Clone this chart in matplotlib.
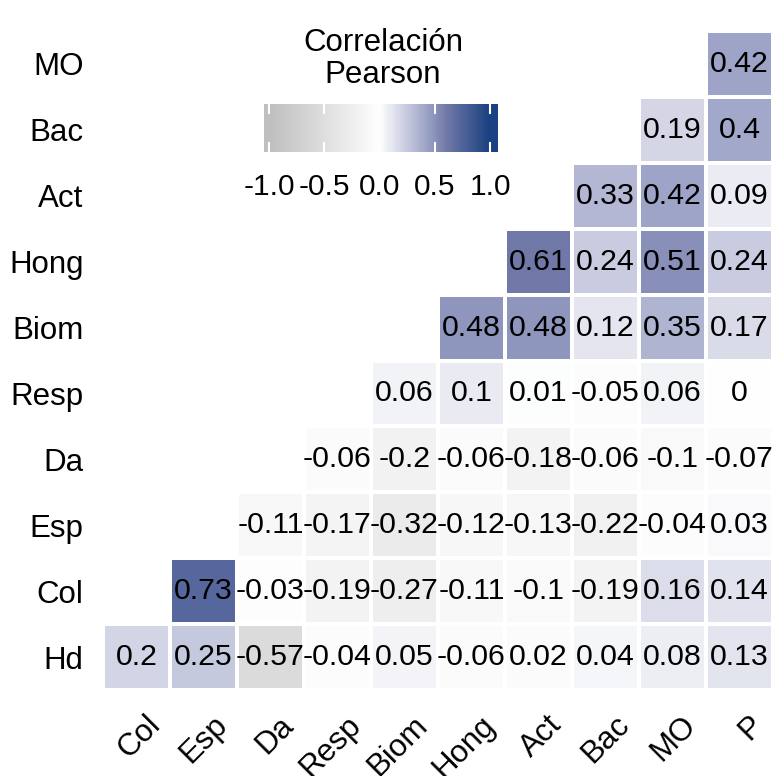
import numpy as np
import matplotlib
matplotlib.use("Agg")
import matplotlib.pyplot as plt
from matplotlib.colors import LinearSegmentedColormap
from matplotlib.transforms import ScaledTranslation

plt.rcParams['font.family'] = ['Liberation Sans', 'DejaVu Sans']

# === Data ===
x_labels = ["Col", "Esp", "Da", "Resp", "Biom", "Hong", "Act", "Bac", "MO", "P"]
y_labels = ["Hd", "Col", "Esp", "Da", "Resp", "Biom", "Hong", "Act", "Bac", "MO"]

# each row starts at the column with the same index (lower triangle)
row_Hd = [0.2, 0.25, -0.57, -0.04, 0.05, -0.06, 0.02, 0.04, 0.08, 0.13]
row_Col = [0.73, -0.03, -0.19, -0.27, -0.11, -0.1, -0.19, 0.16, 0.14]
row_Esp = [-0.11, -0.17, -0.32, -0.12, -0.13, -0.22, -0.04, 0.03]
row_Da = [-0.06, -0.2, -0.06, -0.18, -0.06, -0.1, -0.07]
row_Resp = [0.06, 0.1, 0.01, -0.05, 0.06, 0]
row_Biom = [0.48, 0.48, 0.12, 0.35, 0.17]
row_Hong = [0.61, 0.24, 0.51, 0.24]
row_Act = [0.33, 0.42, 0.09]
row_Bac = [0.19, 0.4]
row_MO = [0.42]
rows = [row_Hd, row_Col, row_Esp, row_Da, row_Resp, row_Biom, row_Hong, row_Act, row_Bac, row_MO]

legend_ticks = [-1.0, -0.5, 0.0, 0.5, 1.0]

n_rows, n_cols = len(y_labels), len(x_labels)
mat = np.full((n_rows, n_cols), np.nan)
for i, r in enumerate(rows):
    mat[i, i:] = r
mat = np.ma.masked_invalid(mat)

# grey -> white -> navy (Lab-like midtones)
cmap = LinearSegmentedColormap.from_list("corr", [
    (0.0, "#BFBFBF"), (0.5, "#FFFFFF"), (0.62, "#C9CCE0"),
    (0.74, "#9097BE"), (0.805, "#7179A8"), (1.0, "#1A4181")])

fig = plt.figure(figsize=(7.8, 7.76), dpi=100)
ax = fig.add_axes([103 / 780, 1 - 690 / 776, 670 / 780, 659 / 776])

ax.pcolormesh(np.arange(n_cols + 1), np.arange(n_rows + 1), mat, cmap=cmap,
              vmin=-1, vmax=1, edgecolor="white", linewidth=1.5)
for i in range(n_rows):
    for j in range(n_cols):
        if not np.ma.is_masked(mat[i, j]):
            v = mat[i, j]
            ax.text(j + 0.5, i + 0.5, f"{v:g}", ha="center", va="center",
                    fontsize=21.8, color="black")

ax.set_xlim(0, n_cols)
ax.set_ylim(0, n_rows)
for s in ax.spines.values():
    s.set_visible(False)
ax.set_xticks(np.arange(n_cols) + 0.5)
ax.set_yticks(np.arange(n_rows) + 0.5)
ax.set_yticklabels(y_labels, fontsize=22.5)
ax.set_xticklabels(x_labels, fontsize=22.5, rotation=45, ha="right", va="center",
                   rotation_mode="anchor")
ax.tick_params(axis="both", length=0)
ax.tick_params(axis="y", pad=14)
ax.tick_params(axis="x", pad=22)
for lab in ax.get_xticklabels():
    lab.set_transform(lab.get_transform() + ScaledTranslation(0.19, 0, fig.dpi_scale_trans))

# === Legend (colour bar) ===
cax = fig.add_axes([264 / 780, 1 - 152 / 776, 234 / 780, 48 / 776])
lo, hi = -1.045, 1.07
grad = np.linspace(lo, hi, 300).reshape(1, -1)
cax.imshow(grad, cmap=cmap, vmin=-1, vmax=1, aspect="auto", extent=[lo, hi, 0, 1])
for t in legend_ticks:
    cax.plot([t, t], [0, 0.19], color="white", lw=1.5)
    cax.plot([t, t], [0.81, 1], color="white", lw=1.5)
cax.set_xlim(lo, hi)
cax.set_ylim(0, 1)
cax.set_yticks([])
cax.set_xticks(legend_ticks)
cax.set_xticklabels([f"{t:.1f}" for t in legend_ticks], fontsize=21.5)
cax.tick_params(axis="x", length=0, pad=15)
for s in cax.spines.values():
    s.set_visible(False)
fig.text(383 / 780, 1 - 59 / 776, "Correlación\nPearson", ha="center", va="center",
         fontsize=22.5, linespacing=1.05)

fig.savefig("out.png", dpi=100)
